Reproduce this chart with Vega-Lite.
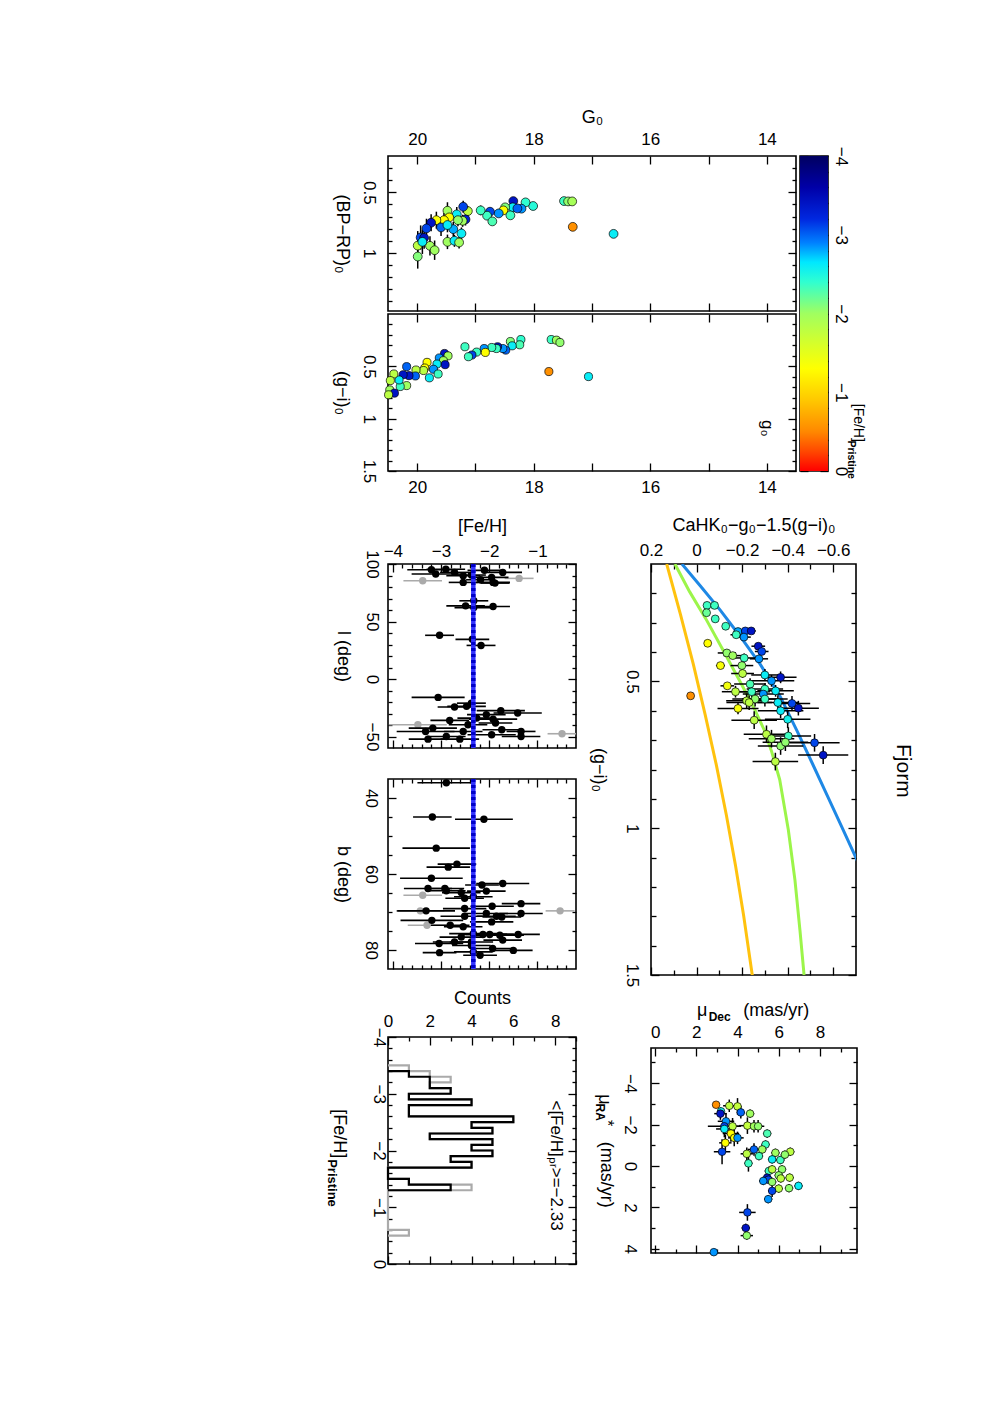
{
  "$schema": "https://vega.github.io/schema/vega-lite/v6.json",
  "autosize": {"type": "none"},
  "padding": {"left": 388, "top": 156, "right": 604, "bottom": 1248},
  "background": "white",
  "config": {
    "font": "Liberation Sans",
    "view": {"stroke": "black", "strokeWidth": 1.6},
    "axis": {"domain": false, "grid": false, "tickColor": "black", "tickWidth": 1.3, "labelFont": "Liberation Sans", "labelFontSize": 17, "labelColor": "black", "titleFont": "Liberation Sans", "titleFontSize": 18, "titleFontWeight": "normal", "titleColor": "black", "labelFlush": false, "labelOverlap": false, "titleBaseline": "middle", "titleAlign": "center"},
    "text": {"font": "Liberation Sans", "color": "black"}
  },
  "datasets": {
    "bp": [
      {"G":16.63,"c":0.843,"e":0.01,"feh":-2.6},{"G":17.33,"c":0.785,"e":0.01,"feh":-0.55},{"G":17.48,"c":0.572,"e":0.01,"feh":-2.35},{"G":17.41,"c":0.575,"e":0.01,"feh":-2.05},{"G":17.34,"c":0.575,"e":0.01,"feh":-1.95},
      {"G":18.01,"c":0.613,"e":0.015,"feh":-2.45},{"G":18.14,"c":0.583,"e":0.015,"feh":-2.4},{"G":18.35,"c":0.572,"e":0.02,"feh":-3.4},{"G":18.36,"c":0.624,"e":0.02,"feh":-2.6},{"G":18.21,"c":0.635,"e":0.02,"feh":-2.85},
      {"G":18.28,"c":0.633,"e":0.02,"feh":-3.0},{"G":18.49,"c":0.624,"e":0.02,"feh":-2.1},{"G":18.52,"c":0.649,"e":0.02,"feh":-1.3},{"G":18.6,"c":0.674,"e":0.025,"feh":-2.85},{"G":18.4,"c":0.69,"e":0.02,"feh":-2.35},
      {"G":18.75,"c":0.66,"e":0.03,"feh":-3.1},{"G":18.8,"c":0.693,"e":0.03,"feh":-2.35},{"G":18.71,"c":0.74,"e":0.03,"feh":-2.3},{"G":18.91,"c":0.649,"e":0.04,"feh":-2.35},{"G":19.13,"c":0.655,"e":0.04,"feh":-1.8},
      {"G":19.21,"c":0.619,"e":0.05,"feh":-3.1},{"G":19.17,"c":0.724,"e":0.05,"feh":-3.3},{"G":19.22,"c":0.735,"e":0.05,"feh":-2.0},{"G":19.48,"c":0.652,"e":0.07,"feh":-2.0},{"G":19.32,"c":0.682,"e":0.06,"feh":-2.6},
      {"G":19.45,"c":0.707,"e":0.06,"feh":-1.3},{"G":19.54,"c":0.73,"e":0.06,"feh":-1.3},{"G":19.67,"c":0.73,"e":0.07,"feh":-1.35},{"G":19.76,"c":0.751,"e":0.07,"feh":-3.4},{"G":19.59,"c":0.79,"e":0.07,"feh":-3.0},
      {"G":19.84,"c":0.798,"e":0.08,"feh":-3.1},{"G":19.94,"c":0.873,"e":0.1,"feh":-3.1},{"G":19.88,"c":0.876,"e":0.09,"feh":-3.4},{"G":19.99,"c":0.94,"e":0.12,"feh":-1.8},{"G":19.78,"c":0.942,"e":0.08,"feh":-2.0},
      {"G":19.7,"c":0.978,"e":0.08,"feh":-2.0},{"G":19.99,"c":1.03,"e":0.1,"feh":-2.1},{"G":19.48,"c":0.909,"e":0.06,"feh":-2.0},{"G":19.36,"c":0.9,"e":0.05,"feh":-2.6},{"G":19.28,"c":0.914,"e":0.05,"feh":-2.0},
      {"G":19.24,"c":0.84,"e":0.05,"feh":-2.6},{"G":19.38,"c":0.804,"e":0.06,"feh":-2.8},{"G":19.48,"c":0.77,"e":0.06,"feh":-2.6},{"G":19.3,"c":0.73,"e":0.05,"feh":-2.05},{"G":19.91,"c":0.909,"e":0.1,"feh":-2.6}
    ],
    "gi": [
      {"g":17.06,"c":0.598,"feh":-2.6},{"g":17.74,"c":0.55,"feh":-0.55},{"g":17.7,"c":0.244,"feh":-2.35},{"g":17.61,"c":0.25,"feh":-2.0},{"g":17.55,"c":0.272,"feh":-2.05},
      {"g":18.22,"c":0.244,"feh":-2.4},{"g":18.24,"c":0.294,"feh":-2.3},{"g":18.4,"c":0.263,"feh":-2.1},{"g":18.37,"c":0.304,"feh":-2.6},{"g":18.48,"c":0.345,"feh":-3.0},
      {"g":18.53,"c":0.33,"feh":-2.85},{"g":18.62,"c":0.313,"feh":-3.4},{"g":18.64,"c":0.33,"feh":-2.35},{"g":18.72,"c":0.32,"feh":-2.35},{"g":18.85,"c":0.33,"feh":-2.85},
      {"g":18.83,"c":0.367,"feh":-1.3},{"g":18.98,"c":0.364,"feh":-2.35},{"g":19.06,"c":0.392,"feh":-3.1},{"g":19.12,"c":0.408,"feh":-2.35},{"g":19.18,"c":0.313,"feh":-2.35},
      {"g":19.53,"c":0.377,"feh":-3.4},{"g":19.47,"c":0.4,"feh":-2.0},{"g":19.62,"c":0.42,"feh":-2.85},{"g":19.55,"c":0.446,"feh":-2.0},{"g":19.52,"c":0.484,"feh":-3.4},
      {"g":19.66,"c":0.478,"feh":-2.6},{"g":19.72,"c":0.528,"feh":-2.85},{"g":19.64,"c":0.573,"feh":-2.35},{"g":19.79,"c":0.61,"feh":-2.6},{"g":19.83,"c":0.462,"feh":-1.3},
      {"g":19.87,"c":0.516,"feh":-1.3},{"g":19.89,"c":0.54,"feh":-1.8},{"g":20.02,"c":0.535,"feh":-1.8},{"g":20.03,"c":0.592,"feh":-3.0},{"g":20.14,"c":0.589,"feh":-3.4},
      {"g":20.24,"c":0.58,"feh":-3.4},{"g":20.18,"c":0.503,"feh":-3.0},{"g":20.18,"c":0.684,"feh":-2.0},{"g":20.29,"c":0.693,"feh":-2.35},{"g":20.31,"c":0.63,"feh":-2.6},
      {"g":20.4,"c":0.573,"feh":-1.8},{"g":20.46,"c":0.636,"feh":-1.8},{"g":20.47,"c":0.725,"feh":-2.0},{"g":20.39,"c":0.756,"feh":-3.4},{"g":20.49,"c":0.772,"feh":-1.8}
    ],
    "ca": [
      {"x":-0.046,"y":0.241,"ex":0.01,"ey":0.005,"feh":-2.35},{"x":-0.079,"y":0.241,"ex":0.01,"ey":0.005,"feh":-2.35},{"x":-0.044,"y":0.266,"ex":0.01,"ey":0.005,"feh":-2.2},{"x":-0.082,"y":0.287,"ex":0.012,"ey":0.005,"feh":-2.35},
      {"x":-0.128,"y":0.312,"ex":0.015,"ey":0.006,"feh":-2.35},{"x":-0.182,"y":0.33,"ex":0.02,"ey":0.008,"feh":-2.8},{"x":-0.214,"y":0.328,"ex":0.02,"ey":0.008,"feh":-3.1},{"x":-0.24,"y":0.328,"ex":0.02,"ey":0.008,"feh":-3.4},
      {"x":-0.208,"y":0.349,"ex":0.03,"ey":0.01,"feh":-2.85},{"x":-0.174,"y":0.341,"ex":0.025,"ey":0.01,"feh":-2.35},{"x":-0.049,"y":0.37,"ex":0.015,"ey":0.008,"feh":-1.3},{"x":-0.271,"y":0.38,"ex":0.03,"ey":0.01,"feh":-3.4},
      {"x":-0.286,"y":0.398,"ex":0.03,"ey":0.01,"feh":-3.1},{"x":-0.274,"y":0.423,"ex":0.04,"ey":0.012,"feh":-2.85},{"x":-0.133,"y":0.403,"ex":0.04,"ey":0.012,"feh":-2.05},{"x":-0.159,"y":0.412,"ex":0.04,"ey":0.012,"feh":-2.0},
      {"x":-0.209,"y":0.42,"ex":0.05,"ey":0.015,"feh":-2.35},{"x":-0.105,"y":0.446,"ex":0.02,"ey":0.01,"feh":-1.35},{"x":-0.199,"y":0.446,"ex":0.05,"ey":0.015,"feh":-2.05},{"x":-0.202,"y":0.473,"ex":0.05,"ey":0.015,"feh":-1.8},
      {"x":-0.3,"y":0.478,"ex":0.06,"ey":0.02,"feh":-2.6},{"x":-0.369,"y":0.486,"ex":0.07,"ey":0.02,"feh":-3.4},{"x":-0.329,"y":0.498,"ex":0.1,"ey":0.02,"feh":-2.85},{"x":-0.135,"y":0.515,"ex":0.03,"ey":0.01,"feh":-1.4},
      {"x":-0.171,"y":0.535,"ex":0.06,"ey":0.02,"feh":-1.8},{"x":-0.235,"y":0.509,"ex":0.07,"ey":0.02,"feh":-2.3},{"x":-0.242,"y":0.535,"ex":0.08,"ey":0.02,"feh":-2.35},{"x":-0.3,"y":0.526,"ex":0.08,"ey":0.02,"feh":-2.35},
      {"x":-0.347,"y":0.532,"ex":0.08,"ey":0.02,"feh":-2.6},{"x":-0.293,"y":0.543,"ex":0.09,"ey":0.02,"feh":-2.85},{"x":0.026,"y":0.549,"ex":0.015,"ey":0.01,"feh":-0.55},{"x":-0.22,"y":0.566,"ex":0.09,"ey":0.025,"feh":-1.8},
      {"x":-0.257,"y":0.56,"ex":0.1,"ey":0.025,"feh":-2.05},{"x":-0.3,"y":0.56,"ex":0.1,"ey":0.025,"feh":-2.35},{"x":-0.357,"y":0.572,"ex":0.09,"ey":0.025,"feh":-2.6},{"x":-0.419,"y":0.575,"ex":0.08,"ey":0.025,"feh":-3.1},
      {"x":-0.447,"y":0.591,"ex":0.09,"ey":0.025,"feh":-3.4},{"x":-0.182,"y":0.592,"ex":0.09,"ey":0.02,"feh":-1.35},{"x":-0.231,"y":0.572,"ex":0.1,"ey":0.025,"feh":-1.8},{"x":-0.369,"y":0.6,"ex":0.1,"ey":0.025,"feh":-2.6},
      {"x":-0.4,"y":0.629,"ex":0.1,"ey":0.03,"feh":-2.55},{"x":-0.253,"y":0.632,"ex":0.1,"ey":0.03,"feh":-1.8},{"x":-0.307,"y":0.68,"ex":0.1,"ey":0.03,"feh":-1.8},{"x":-0.329,"y":0.695,"ex":0.1,"ey":0.03,"feh":-2.0},
      {"x":-0.369,"y":0.72,"ex":0.1,"ey":0.03,"feh":-2.05},{"x":-0.403,"y":0.686,"ex":0.1,"ey":0.03,"feh":-2.35},{"x":-0.39,"y":0.707,"ex":0.1,"ey":0.03,"feh":-2.05},{"x":-0.518,"y":0.709,"ex":0.11,"ey":0.03,"feh":-3.1},
      {"x":-0.556,"y":0.751,"ex":0.11,"ey":0.03,"feh":-3.4},{"x":-0.346,"y":0.773,"ex":0.1,"ey":0.03,"feh":-1.8}
    ],
    "tr": [
      {"t":"-1","x":0.131,"y":0.1},{"t":"-1","x":0.071,"y":0.271},{"t":"-1","x":0.014,"y":0.442},{"t":"-1","x":-0.038,"y":0.614},{"t":"-1","x":-0.087,"y":0.785},
      {"t":"-1","x":-0.131,"y":0.956},{"t":"-1","x":-0.171,"y":1.127},{"t":"-1","x":-0.207,"y":1.299},{"t":"-1","x":-0.246,"y":1.508},
      {"t":"-2","x":0.095,"y":0.1},{"t":"-2","x":0.03,"y":0.195},{"t":"-2","x":-0.041,"y":0.287},{"t":"-2","x":-0.113,"y":0.389},{"t":"-2","x":-0.185,"y":0.492},{"t":"-2","x":-0.252,"y":0.59},{"t":"-2","x":-0.298,"y":0.667},
      {"t":"-2","x":-0.33,"y":0.74},{"t":"-2","x":-0.365,"y":0.834},{"t":"-2","x":-0.403,"y":1.006},{"t":"-2","x":-0.432,"y":1.177},{"t":"-2","x":-0.454,"y":1.348},{"t":"-2","x":-0.472,"y":1.5},
      {"t":"-3","x":0.064,"y":0.1},{"t":"-3","x":-0.016,"y":0.174},{"t":"-3","x":-0.104,"y":0.257},{"t":"-3","x":-0.191,"y":0.346},{"t":"-3","x":-0.279,"y":0.441},{"t":"-3","x":-0.367,"y":0.551},
      {"t":"-3","x":-0.44,"y":0.667},{"t":"-3","x":-0.507,"y":0.777},{"t":"-3","x":-0.577,"y":0.894},{"t":"-3","x":-0.638,"y":0.996},{"t":"-3","x":-0.7,"y":1.101},{"t":"-3","x":-0.75,"y":1.19}
    ],
    "pm": [
      {"d":2.96,"r":-2.96,"ed":0.1,"er":0.1,"feh":-0.55},{"d":3.2,"r":-2.64,"ed":0.1,"er":0.1,"feh":-2.55},{"d":3.6,"r":-2.91,"ed":0.3,"er":0.3,"feh":-1.8},{"d":4.0,"r":-2.88,"ed":0.2,"er":0.4,"feh":-1.75},
      {"d":3.17,"r":-2.53,"ed":0.3,"er":0.3,"feh":-3.4},{"d":4.16,"r":-2.59,"ed":0.2,"er":0.3,"feh":-3.0},{"d":4.61,"r":-2.53,"ed":0.2,"er":0.2,"feh":-2.0},{"d":3.44,"r":-2.16,"ed":0.4,"er":0.4,"feh":-2.85},
      {"d":3.36,"r":-1.92,"ed":0.8,"er":0.3,"feh":-3.1},{"d":3.76,"r":-1.92,"ed":0.4,"er":0.4,"feh":-1.8},{"d":4.48,"r":-1.95,"ed":0.4,"er":0.4,"feh":-1.75},{"d":4.8,"r":-1.92,"ed":0.4,"er":0.3,"feh":-2.0},
      {"d":5.0,"r":-1.92,"ed":0.3,"er":0.3,"feh":-2.05},{"d":5.44,"r":-1.57,"ed":0.2,"er":0.2,"feh":-2.3},{"d":3.36,"r":-1.79,"ed":0.4,"er":0.4,"feh":-2.6},{"d":3.68,"r":-1.57,"ed":0.4,"er":0.4,"feh":-1.3},
      {"d":3.84,"r":-1.36,"ed":0.3,"er":0.4,"feh":-1.35},{"d":4.0,"r":-1.36,"ed":0.3,"er":0.3,"feh":-2.85},{"d":3.41,"r":-1.12,"ed":0.3,"er":0.4,"feh":-1.3},{"d":5.36,"r":-1.04,"ed":0.2,"er":0.2,"feh":-2.35},
      {"d":5.2,"r":-0.8,"ed":0.2,"er":0.2,"feh":-2.0},{"d":4.8,"r":-0.8,"ed":0.3,"er":0.3,"feh":-3.0},{"d":5.04,"r":-0.48,"ed":0.2,"er":0.2,"feh":-2.35},{"d":4.45,"r":-0.59,"ed":0.3,"er":0.3,"feh":-1.8},
      {"d":3.25,"r":-0.69,"ed":0.4,"er":0.6,"feh":-3.1},{"d":4.53,"r":-0.13,"ed":0.2,"er":0.4,"feh":-2.35},{"d":5.84,"r":-0.64,"ed":0.2,"er":0.2,"feh":-2.0},{"d":6.08,"r":-0.29,"ed":0.2,"er":0.2,"feh":-2.35},
      {"d":6.56,"r":-0.69,"ed":0.2,"er":0.2,"feh":-1.8},{"d":6.3,"r":-0.55,"ed":0.2,"er":0.2,"feh":-2.05},{"d":5.68,"r":-0.32,"ed":0.2,"er":0.2,"feh":-2.6},{"d":5.52,"r":0.24,"ed":0.2,"er":0.2,"feh":-2.35},
      {"d":5.68,"r":0.16,"ed":0.2,"er":0.2,"feh":-1.8},{"d":6.16,"r":0.16,"ed":0.2,"er":0.2,"feh":-2.05},{"d":6.0,"r":0.45,"ed":0.2,"er":0.2,"feh":-2.05},{"d":5.44,"r":0.56,"ed":0.2,"er":0.2,"feh":-3.4},
      {"d":5.5,"r":0.66,"ed":0.2,"er":0.2,"feh":-3.1},{"d":5.25,"r":0.72,"ed":0.2,"er":0.2,"feh":-2.85},{"d":5.68,"r":0.77,"ed":0.2,"er":0.2,"feh":-2.05},{"d":6.1,"r":0.6,"ed":0.2,"er":0.2,"feh":-1.8},
      {"d":6.53,"r":0.56,"ed":0.2,"er":0.2,"feh":-1.8},{"d":6.0,"r":1.09,"ed":0.2,"er":0.2,"feh":-1.8},{"d":6.5,"r":1.07,"ed":0.2,"er":0.2,"feh":-2.05},{"d":6.96,"r":0.96,"ed":0.2,"er":0.2,"feh":-2.6},
      {"d":5.68,"r":1.2,"ed":0.2,"er":0.3,"feh":-3.1},{"d":5.49,"r":1.6,"ed":0.2,"er":0.2,"feh":-2.85},{"d":4.48,"r":2.24,"ed":0.4,"er":0.4,"feh":-3.1},{"d":4.4,"r":2.99,"ed":0.2,"er":0.2,"feh":-3.4},
      {"d":4.45,"r":3.36,"ed":0.3,"er":0.2,"feh":-2.05},{"d":2.85,"r":4.16,"ed":0.1,"er":0.1,"feh":-2.85}
    ],
    "lpan": [
      {"f":-3.2,"l":95,"e":0.5,"m":1},{"f":-2.9,"l":95.5,"e":0.4,"m":1},{"f":-3.11,"l":91.3,"e":0.5,"m":1},{"f":-2.72,"l":92.7,"e":0.3,"m":1},{"f":-2.54,"l":89.8,"e":0.35,"m":1},
      {"f":-2.37,"l":90.4,"e":0.3,"m":1},{"f":-2.1,"l":94.5,"e":0.35,"m":1},{"f":-1.72,"l":92.7,"e":0.4,"m":1},{"f":-1.95,"l":88.4,"e":0.35,"m":1},{"f":-2.18,"l":86.3,"e":0.3,"m":1},
      {"f":-2.54,"l":84,"e":0.3,"m":1},{"f":-1.92,"l":84,"e":0.35,"m":1},{"f":-1.88,"l":83.4,"e":0.3,"m":1},{"f":-3.38,"l":85.4,"e":0.4,"m":0},{"f":-1.38,"l":87.5,"e":0.3,"m":0},
      {"f":-2.32,"l":68,"e":0.3,"m":1},{"f":-2.49,"l":63.6,"e":0.4,"m":1},{"f":-2.32,"l":62.1,"e":0.4,"m":1},{"f":-1.92,"l":63,"e":0.35,"m":1},{"f":-3.03,"l":38,"e":0.3,"m":1},
      {"f":-2.35,"l":34.5,"e":0.35,"m":1},{"f":-2.17,"l":29.2,"e":0.3,"m":1},{"f":-3.06,"l":-16,"e":0.55,"m":1},{"f":-2.37,"l":-21,"e":0.3,"m":1},{"f":-2.72,"l":-24.3,"e":0.35,"m":1},
      {"f":-2.47,"l":-23.8,"e":0.4,"m":1},{"f":-1.76,"l":-27.5,"e":0.5,"m":1},{"f":-1.41,"l":-29.6,"e":0.5,"m":1},{"f":-2.06,"l":-31,"e":0.4,"m":1},{"f":-2.26,"l":-34,"e":0.4,"m":1},
      {"f":-2.82,"l":-36,"e":0.4,"m":1},{"f":-1.92,"l":-34.9,"e":0.5,"m":1},{"f":-1.87,"l":-38.3,"e":0.35,"m":1},{"f":-2.44,"l":-39.8,"e":0.4,"m":1},{"f":-3.17,"l":-42.7,"e":0.5,"m":1},
      {"f":-2.54,"l":-45.6,"e":0.4,"m":1},{"f":-3.32,"l":-45.6,"e":0.6,"m":1},{"f":-1.74,"l":-44.1,"e":0.4,"m":1},{"f":-1.34,"l":-45.6,"e":0.3,"m":1},{"f":-1.95,"l":-48.5,"e":0.5,"m":1},
      {"f":-1.34,"l":-50,"e":0.4,"m":1},{"f":-2.89,"l":-50,"e":0.4,"m":1},{"f":-2.61,"l":-52.3,"e":0.4,"m":1},{"f":-3.27,"l":-52.3,"e":0.4,"m":1},{"f":-3.48,"l":-39.8,"e":0.6,"m":0},
      {"f":-0.49,"l":-47.6,"e":0.3,"m":0}
    ],
    "bpan": [
      {"f":-2.89,"b":36,"e":0.6,"m":1},{"f":-3.18,"b":45,"e":0.4,"m":1},{"f":-2.11,"b":45.6,"e":0.6,"m":1},{"f":-3.1,"b":53.2,"e":0.7,"m":1},{"f":-2.67,"b":57.4,"e":0.4,"m":1},
      {"f":-2.85,"b":58.2,"e":0.45,"m":1},{"f":-3.2,"b":61.1,"e":0.65,"m":1},{"f":-2.15,"b":62.9,"e":0.35,"m":1},{"f":-1.72,"b":62.5,"e":0.55,"m":1},{"f":-3.27,"b":63.8,"e":0.5,"m":1},
      {"f":-2.92,"b":63.8,"e":0.4,"m":1},{"f":-2.89,"b":64.4,"e":0.4,"m":1},{"f":-2.58,"b":64.9,"e":0.4,"m":1},{"f":-2.06,"b":64.5,"e":0.4,"m":1},{"f":-3.38,"b":65.6,"e":0.4,"m":0},
      {"f":-2.33,"b":66,"e":0.4,"m":1},{"f":-2.51,"b":66.4,"e":0.4,"m":1},{"f":-1.94,"b":68.5,"e":0.45,"m":1},{"f":-1.34,"b":67.8,"e":0.4,"m":1},{"f":-3.31,"b":69.7,"e":0.6,"m":1},
      {"f":-3.43,"b":69.7,"e":0.5,"m":0},{"f":-2.51,"b":69.1,"e":0.45,"m":1},{"f":-2.51,"b":71.1,"e":0.5,"m":1},{"f":-2.06,"b":70.4,"e":0.45,"m":1},{"f":-1.85,"b":71.1,"e":0.4,"m":1},
      {"f":-1.74,"b":71.3,"e":0.4,"m":1},{"f":-1.34,"b":70.4,"e":0.45,"m":1},{"f":-0.53,"b":69.7,"e":0.3,"m":0},{"f":-3.19,"b":72.2,"e":0.65,"m":1},{"f":-1.95,"b":72.6,"e":0.45,"m":1},
      {"f":-3.29,"b":73.5,"e":0.4,"m":0},{"f":-2.81,"b":73.5,"e":0.4,"m":1},{"f":-2.54,"b":73.9,"e":0.4,"m":1},{"f":-2.33,"b":75.7,"e":0.5,"m":1},{"f":-2.13,"b":75.9,"e":0.5,"m":1},
      {"f":-1.99,"b":75.9,"e":0.5,"m":1},{"f":-1.78,"b":76.1,"e":0.5,"m":1},{"f":-1.4,"b":75.9,"e":0.45,"m":1},{"f":-2.58,"b":76.6,"e":0.45,"m":1},{"f":-2.37,"b":77.9,"e":0.45,"m":1},
      {"f":-2.72,"b":77.9,"e":0.45,"m":1},{"f":-3.04,"b":78.3,"e":0.5,"m":1},{"f":-1.72,"b":77.4,"e":0.4,"m":1},{"f":-2.37,"b":78.8,"e":0.4,"m":1},{"f":-1.93,"b":79.6,"e":0.4,"m":1},
      {"f":-1.5,"b":80.1,"e":0.4,"m":1},{"f":-3.03,"b":80.7,"e":0.35,"m":1},{"f":-2.33,"b":80.5,"e":0.4,"m":1},{"f":-2.19,"b":81.4,"e":0.35,"m":1}
    ],
    "hsel": [
      {"i":0,"feh":-3.4,"n":0},{"i":1,"feh":-3.4,"n":1},{"i":2,"feh":-3.3,"n":2},{"i":3,"feh":-3.2,"n":2},{"i":4,"feh":-3.1,"n":3},{"i":5,"feh":-3.0,"n":1},
      {"i":6,"feh":-2.9,"n":4},{"i":7,"feh":-2.8,"n":1},{"i":8,"feh":-2.7,"n":1},{"i":9,"feh":-2.6,"n":6},{"i":10,"feh":-2.5,"n":4},{"i":11,"feh":-2.4,"n":5},
      {"i":12,"feh":-2.3,"n":2},{"i":13,"feh":-2.2,"n":5},{"i":14,"feh":-2.1,"n":4},{"i":15,"feh":-2.0,"n":5},{"i":16,"feh":-1.9,"n":3},{"i":17,"feh":-1.8,"n":4},
      {"i":18,"feh":-1.7,"n":0},{"i":19,"feh":-1.6,"n":0},{"i":20,"feh":-1.5,"n":1},{"i":21,"feh":-1.4,"n":3},{"i":22,"feh":-1.3,"n":0}
    ],
    "hall": [
      {"i":0,"feh":-3.5,"n":0},{"i":1,"feh":-3.5,"n":1},{"i":2,"feh":-3.4,"n":2},{"i":3,"feh":-3.3,"n":3},{"i":4,"feh":-3.2,"n":2},{"i":5,"feh":-3.1,"n":3},{"i":6,"feh":-3.0,"n":1},
      {"i":7,"feh":-2.9,"n":4},{"i":8,"feh":-2.8,"n":1},{"i":9,"feh":-2.7,"n":1},{"i":10,"feh":-2.6,"n":6},{"i":11,"feh":-2.5,"n":4},{"i":12,"feh":-2.4,"n":5},
      {"i":13,"feh":-2.3,"n":2},{"i":14,"feh":-2.2,"n":5},{"i":15,"feh":-2.1,"n":4},{"i":16,"feh":-2.0,"n":5},{"i":17,"feh":-1.9,"n":3},{"i":18,"feh":-1.8,"n":4},
      {"i":19,"feh":-1.7,"n":0},{"i":20,"feh":-1.6,"n":0},{"i":21,"feh":-1.5,"n":1},{"i":22,"feh":-1.4,"n":4},{"i":23,"feh":-1.3,"n":0},{"i":24,"feh":-0.6,"n":1},{"i":25,"feh":-0.5,"n":0}
    ],
    "mean": [{"v": -2.33}]
  },
  "bounds": "full",
  "spacing": 18,
  "vconcat": [
    {
      "bounds": "full",
      "spacing": 0,
      "hconcat": [
        {
          "bounds": "flush",
          "spacing": 3,
          "vconcat": [
            {
              "width": 408, "height": 155,
              "data": {"name": "bp"},
              "resolve": {"axis": {"x": "independent", "y": "independent"}},
              "layer": [
                {
                  "mark": {"type": "errorbar", "color": "black", "thickness": 1.5, "clip": true},
                  "encoding": {
                    "x": {"field": "G", "type": "quantitative", "scale": {"domain": [13.5, 20.5], "reverse": true, "nice": false, "zero": false}, "axis": null},
                    "y": {"field": "c", "type": "quantitative", "scale": {"domain": [0.2, 1.48], "reverse": true, "nice": false, "zero": false}, "axis": null},
                    "yError": {"field": "e"}
                  }
                },
                {
                  "mark": {"type": "circle", "size": 78, "stroke": "black", "strokeWidth": 0.7, "opacity": 1},
                  "encoding": {
                    "x": {"field": "G", "type": "quantitative", "scale": {"domain": [13.5, 20.5], "reverse": true, "nice": false, "zero": false},
                      "axis": {"orient": "top", "values": [14, 15, 16, 17, 18, 19, 20], "tickSize": -8, "labelExpr": "datum.value % 2 == 0 ? datum.label : ''", "labelPadding": 15.6, "format": "~f", "title": "G₀", "titleY": -39}},
                    "y": {"field": "c", "type": "quantitative", "scale": {"domain": [0.2, 1.48], "reverse": true, "nice": false, "zero": false},
                      "axis": {"orient": "left", "values": [0.3, 0.4, 0.5, 0.6, 0.7, 0.8, 0.9, 1, 1.1, 1.2, 1.3, 1.4],
                        "tickSize": {"condition": {"test": "abs(datum.value*2-round(datum.value*2)) < 0.01", "value": -8}, "value": -4},
                        "labelExpr": "abs(datum.value*2-round(datum.value*2)) < 0.01 ? datum.label : ''", "labelAngle": 90, "labelAlign": "center", "labelBaseline": "top", "labelPadding": 20, "format": "~f",
                        "title": "(BP−RP)₀", "titleAngle": 90, "titleX": -46.3, "titleY": 77.5}},
                    "color": {"field": "feh", "type": "quantitative", "scale": {"domain": [-4, -3.6, -3.2, -2.9, -2.65, -2.4, -2.0, -1.6, -1.3, -0.9, -0.5, -0.25, 0], "range": ["#000060", "#0000a8", "#0028e0", "#0080ff", "#00e8ff", "#30ffd0", "#a0ff60", "#d8ff28", "#ffff00", "#ffc800", "#ff8800", "#ff4800", "#ff0000"], "interpolate": "rgb"}, "legend": null}
                  }
                },
                {
                  "mark": {"type": "point", "opacity": 0},
                  "encoding": {
                    "x": {"field": "G", "type": "quantitative", "scale": {"domain": [13.5, 20.5], "reverse": true, "nice": false, "zero": false},
                      "axis": {"orient": "bottom", "values": [14, 15, 16, 17, 18, 19, 20], "tickSize": -8, "labels": false, "title": null}},
                    "y": {"field": "c", "type": "quantitative", "scale": {"domain": [0.2, 1.48], "reverse": true, "nice": false, "zero": false},
                      "axis": {"orient": "right", "values": [0.3, 0.4, 0.5, 0.6, 0.7, 0.8, 0.9, 1, 1.1, 1.2, 1.3, 1.4],
                        "tickSize": {"condition": {"test": "abs(datum.value*2-round(datum.value*2)) < 0.01", "value": -8}, "value": -4}, "labels": false, "title": null}}
                  }
                }
              ]
            },
            {
              "width": 408, "height": 157,
              "data": {"name": "gi"},
              "resolve": {"axis": {"x": "independent", "y": "independent"}},
              "layer": [
                {
                  "mark": {"type": "circle", "size": 66, "stroke": "black", "strokeWidth": 0.7, "opacity": 1},
                  "encoding": {
                    "x": {"field": "g", "type": "quantitative", "scale": {"domain": [13.5, 20.5], "reverse": true, "nice": false, "zero": false},
                      "axis": {"orient": "top", "values": [14, 15, 16, 17, 18, 19, 20], "tickSize": -8, "labels": false, "title": null}},
                    "y": {"field": "c", "type": "quantitative", "scale": {"domain": [0, 1.5], "reverse": true, "nice": false, "zero": false},
                      "axis": {"orient": "left", "values": [0.1, 0.2, 0.3, 0.4, 0.5, 0.6, 0.7, 0.8, 0.9, 1, 1.1, 1.2, 1.3, 1.4, 1.5],
                        "tickSize": {"condition": {"test": "abs(datum.value*2-round(datum.value*2)) < 0.01", "value": -8}, "value": -4},
                        "labelExpr": "abs(datum.value*2-round(datum.value*2)) < 0.01 ? datum.label : ''", "labelAngle": 90, "labelAlign": "center", "labelBaseline": "top", "labelPadding": 20, "format": "~f",
                        "title": "(g−i)₀", "titleAngle": 90, "titleX": -46.3, "titleY": 78.5}},
                    "color": {"field": "feh", "type": "quantitative", "scale": {"domain": [-4, -3.6, -3.2, -2.9, -2.65, -2.4, -2.0, -1.6, -1.3, -0.9, -0.5, -0.25, 0], "range": ["#000060", "#0000a8", "#0028e0", "#0080ff", "#00e8ff", "#30ffd0", "#a0ff60", "#d8ff28", "#ffff00", "#ffc800", "#ff8800", "#ff4800", "#ff0000"], "interpolate": "rgb"}, "legend": null}
                  }
                },
                {
                  "mark": {"type": "point", "opacity": 0},
                  "encoding": {
                    "x": {"field": "g", "type": "quantitative", "scale": {"domain": [13.5, 20.5], "reverse": true, "nice": false, "zero": false},
                      "axis": {"orient": "bottom", "values": [14, 15, 16, 17, 18, 19, 20], "tickSize": -8, "labelExpr": "datum.value % 2 == 0 ? datum.label : ''", "labelPadding": 16.4, "format": "~f", "title": null}},
                    "y": {"field": "c", "type": "quantitative", "scale": {"domain": [0, 1.5], "reverse": true, "nice": false, "zero": false},
                      "axis": {"orient": "right", "values": [0.1, 0.2, 0.3, 0.4, 0.5, 0.6, 0.7, 0.8, 0.9, 1, 1.1, 1.2, 1.3, 1.4, 1.5],
                        "tickSize": {"condition": {"test": "abs(datum.value*2-round(datum.value*2)) < 0.01", "value": -8}, "value": -4}, "labels": false, "title": null}}
                  }
                },
                {
                  "data": {"values": [{}]},
                  "mark": {"type": "text", "text": "g₀", "angle": 90, "fontSize": 17, "align": "center", "baseline": "middle"},
                  "encoding": {
                    "x": {"datum": 14.0, "type": "quantitative", "scale": {"domain": [13.5, 20.5], "reverse": true, "nice": false, "zero": false}, "axis": null},
                    "y": {"datum": 1.091, "type": "quantitative", "scale": {"domain": [0, 1.5], "reverse": true, "nice": false, "zero": false}, "axis": null}
                  }
                }
              ]
            }
          ]
        },
        {
          "width": 28, "height": 315,
          "data": {"values": [{}]},
          "resolve": {"axis": {"x": "independent", "y": "independent"}},
          "layer": [
            {
              "mark": {"type": "rect", "fill": {"gradient": "linear", "x1": 0, "y1": 0, "x2": 0, "y2": 1, "stops": [
                {"offset": 0, "color": "#000060"}, {"offset": 0.1, "color": "#0000a8"}, {"offset": 0.2, "color": "#0028e0"}, {"offset": 0.275, "color": "#0080ff"},
                {"offset": 0.3375, "color": "#00e8ff"}, {"offset": 0.4, "color": "#30ffd0"}, {"offset": 0.5, "color": "#a0ff60"}, {"offset": 0.6, "color": "#d8ff28"},
                {"offset": 0.675, "color": "#ffff00"}, {"offset": 0.775, "color": "#ffc800"}, {"offset": 0.875, "color": "#ff8800"}, {"offset": 0.9375, "color": "#ff4800"}, {"offset": 1, "color": "#ff0000"}]}},
              "encoding": {
                "x": {"datum": 0, "type": "quantitative", "scale": {"domain": [0, 1], "nice": false, "zero": false}, "axis": null},
                "x2": {"datum": 1},
                "y": {"datum": -4, "type": "quantitative", "scale": {"domain": [-4, 0], "reverse": true, "nice": false, "zero": false},
                  "axis": {"orient": "left", "values": [-4, -3.8, -3.6, -3.4, -3.2, -3, -2.8, -2.6, -2.4, -2.2, -2, -1.8, -1.6, -1.4, -1.2, -1, -0.8, -0.6, -0.4, -0.2, 0],
                    "tickSize": {"condition": {"test": "abs(datum.value-round(datum.value)) < 0.01", "value": -8}, "value": -5}, "labels": false, "title": null}},
                "y2": {"datum": 0}
              }
            },
            {
              "mark": {"type": "point", "opacity": 0},
              "encoding": {
                "x": {"datum": 0.5, "type": "quantitative", "scale": {"domain": [0, 1], "nice": false, "zero": false}, "axis": null},
                "y": {"datum": -2, "type": "quantitative", "scale": {"domain": [-4, 0], "reverse": true, "nice": false, "zero": false},
                  "axis": {"orient": "right", "values": [-4, -3.8, -3.6, -3.4, -3.2, -3, -2.8, -2.6, -2.4, -2.2, -2, -1.8, -1.6, -1.4, -1.2, -1, -0.8, -0.6, -0.4, -0.2, 0],
                    "tickSize": {"condition": {"test": "abs(datum.value-round(datum.value)) < 0.01", "value": -8}, "value": -5},
                    "labelExpr": "abs(datum.value-round(datum.value)) < 0.01 ? datum.label : ''", "labelAngle": 90, "labelAlign": "center", "labelBaseline": "bottom", "labelPadding": 11.7, "format": "~f",
                    "title": "[Fe/H]", "titleFontSize": 14, "titleAngle": 90, "titleX": 29.8, "titleY": 266.3}}
              }
            },
            {
              "mark": {"type": "point", "opacity": 0},
              "encoding": {
                "x": {"datum": 0.5, "type": "quantitative", "scale": {"domain": [0, 1], "nice": false, "zero": false}, "axis": null},
                "y": {"datum": -2, "type": "quantitative", "scale": {"domain": [-4, 0], "reverse": true, "nice": false, "zero": false},
                  "axis": {"orient": "right", "ticks": false, "labels": false, "title": "Pristine", "titleFontSize": 10.5, "titleFontWeight": "bold", "titleAngle": 90, "titleX": 22.3, "titleY": 303.2}}
              }
            }
          ]
        }
      ]
    },
    {
      "bounds": "full",
      "spacing": 10,
      "hconcat": [
        {
          "bounds": "flush",
          "spacing": 0,
          "vconcat": [
            {
              "width": 188, "height": 184,
              "data": {"name": "lpan"},
              "resolve": {"axis": {"x": "independent", "y": "independent"}},
              "layer": [
                {
                  "transform": [{"filter": "datum.m == 0"}],
                  "mark": {"type": "errorbar", "color": "#aaaaaa", "thickness": 1.6, "clip": true},
                  "encoding": {
                    "x": {"field": "f", "type": "quantitative", "scale": {"domain": [-4.1, -0.2], "nice": false, "zero": false}, "axis": null},
                    "y": {"field": "l", "type": "quantitative", "scale": {"domain": [-60, 100], "nice": false, "zero": false}, "axis": null},
                    "xError": {"field": "e"}
                  }
                },
                {
                  "transform": [{"filter": "datum.m == 0"}],
                  "mark": {"type": "circle", "size": 55, "color": "#aaaaaa", "opacity": 1},
                  "encoding": {
                    "x": {"field": "f", "type": "quantitative", "scale": {"domain": [-4.1, -0.2], "nice": false, "zero": false}, "axis": null},
                    "y": {"field": "l", "type": "quantitative", "scale": {"domain": [-60, 100], "nice": false, "zero": false}, "axis": null}
                  }
                },
                {
                  "transform": [{"filter": "datum.m == 1"}],
                  "mark": {"type": "errorbar", "color": "black", "thickness": 1.6, "clip": true},
                  "encoding": {
                    "x": {"field": "f", "type": "quantitative", "scale": {"domain": [-4.1, -0.2], "nice": false, "zero": false}, "axis": null},
                    "y": {"field": "l", "type": "quantitative", "scale": {"domain": [-60, 100], "nice": false, "zero": false}, "axis": null},
                    "xError": {"field": "e"}
                  }
                },
                {
                  "transform": [{"filter": "datum.m == 1"}],
                  "mark": {"type": "circle", "size": 55, "color": "black", "opacity": 1},
                  "encoding": {
                    "x": {"field": "f", "type": "quantitative", "scale": {"domain": [-4.1, -0.2], "nice": false, "zero": false},
                      "axis": {"orient": "top", "values": [-4, -3.8, -3.6, -3.4, -3.2, -3, -2.8, -2.6, -2.4, -2.2, -2, -1.8, -1.6, -1.4, -1.2, -1, -0.8, -0.6, -0.4],
                        "tickSize": {"condition": {"test": "abs(datum.value-round(datum.value)) < 0.01", "value": -8}, "value": -4},
                        "labelExpr": "abs(datum.value-round(datum.value)) < 0.01 ? datum.label : ''", "labelPadding": 12, "format": "~f", "title": "[Fe/H]", "titleY": -37.3}},
                    "y": {"field": "l", "type": "quantitative", "scale": {"domain": [-60, 100], "nice": false, "zero": false},
                      "axis": {"orient": "left", "values": [-50, -40, -30, -20, -10, 0, 10, 20, 30, 40, 50, 60, 70, 80, 90, 100],
                        "tickSize": {"condition": {"test": "datum.value % 50 == 0", "value": -8}, "value": -4},
                        "labelExpr": "datum.value % 50 == 0 ? datum.label : ''", "labelAngle": 90, "labelAlign": "center", "labelBaseline": "top", "labelPadding": 16.7, "format": "~f",
                        "title": "l (deg)", "titleAngle": 90, "titleX": -46, "titleY": 92}}
                  }
                },
                {
                  "mark": {"type": "point", "opacity": 0},
                  "encoding": {
                    "x": {"field": "f", "type": "quantitative", "scale": {"domain": [-4.1, -0.2], "nice": false, "zero": false},
                      "axis": {"orient": "bottom", "values": [-4, -3.8, -3.6, -3.4, -3.2, -3, -2.8, -2.6, -2.4, -2.2, -2, -1.8, -1.6, -1.4, -1.2, -1, -0.8, -0.6, -0.4],
                        "tickSize": {"condition": {"test": "abs(datum.value-round(datum.value)) < 0.01", "value": -8}, "value": -4}, "labels": false, "title": null}},
                    "y": {"field": "l", "type": "quantitative", "scale": {"domain": [-60, 100], "nice": false, "zero": false},
                      "axis": {"orient": "right", "values": [-50, -40, -30, -20, -10, 0, 10, 20, 30, 40, 50, 60, 70, 80, 90, 100],
                        "tickSize": {"condition": {"test": "datum.value % 50 == 0", "value": -8}, "value": -4}, "labels": false, "title": null}}
                  }
                },
                {
                  "data": {"name": "mean"},
                  "mark": {"type": "rule", "color": "#3333ff", "strokeWidth": 4.5},
                  "encoding": {"x": {"field": "v", "type": "quantitative", "scale": {"domain": [-4.1, -0.2], "nice": false, "zero": false}, "axis": null}}
                },
                {
                  "data": {"name": "mean"},
                  "mark": {"type": "rule", "color": "#0000c8", "strokeWidth": 4.5, "strokeDash": [3, 3]},
                  "encoding": {"x": {"field": "v", "type": "quantitative", "scale": {"domain": [-4.1, -0.2], "nice": false, "zero": false}, "axis": null}}
                }
              ]
            },
            {"width": 1, "height": 31, "data": {"values": []}, "mark": "point", "view": {"stroke": null}},
            {
              "width": 188, "height": 190,
              "data": {"name": "bpan"},
              "resolve": {"axis": {"x": "independent", "y": "independent"}},
              "layer": [
                {
                  "transform": [{"filter": "datum.m == 0"}],
                  "mark": {"type": "errorbar", "color": "#aaaaaa", "thickness": 1.6, "clip": true},
                  "encoding": {
                    "x": {"field": "f", "type": "quantitative", "scale": {"domain": [-4.1, -0.2], "nice": false, "zero": false}, "axis": null},
                    "y": {"field": "b", "type": "quantitative", "scale": {"domain": [35, 85], "reverse": true, "nice": false, "zero": false}, "axis": null},
                    "xError": {"field": "e"}
                  }
                },
                {
                  "transform": [{"filter": "datum.m == 0"}],
                  "mark": {"type": "circle", "size": 55, "color": "#aaaaaa", "opacity": 1},
                  "encoding": {
                    "x": {"field": "f", "type": "quantitative", "scale": {"domain": [-4.1, -0.2], "nice": false, "zero": false}, "axis": null},
                    "y": {"field": "b", "type": "quantitative", "scale": {"domain": [35, 85], "reverse": true, "nice": false, "zero": false}, "axis": null}
                  }
                },
                {
                  "transform": [{"filter": "datum.m == 1"}],
                  "mark": {"type": "errorbar", "color": "black", "thickness": 1.6, "clip": true},
                  "encoding": {
                    "x": {"field": "f", "type": "quantitative", "scale": {"domain": [-4.1, -0.2], "nice": false, "zero": false}, "axis": null},
                    "y": {"field": "b", "type": "quantitative", "scale": {"domain": [35, 85], "reverse": true, "nice": false, "zero": false}, "axis": null},
                    "xError": {"field": "e"}
                  }
                },
                {
                  "transform": [{"filter": "datum.m == 1"}],
                  "mark": {"type": "circle", "size": 55, "color": "black", "opacity": 1},
                  "encoding": {
                    "x": {"field": "f", "type": "quantitative", "scale": {"domain": [-4.1, -0.2], "nice": false, "zero": false},
                      "axis": {"orient": "top", "values": [-4, -3.8, -3.6, -3.4, -3.2, -3, -2.8, -2.6, -2.4, -2.2, -2, -1.8, -1.6, -1.4, -1.2, -1, -0.8, -0.6, -0.4],
                        "tickSize": {"condition": {"test": "abs(datum.value-round(datum.value)) < 0.01", "value": -8}, "value": -4}, "labels": false, "title": null}},
                    "y": {"field": "b", "type": "quantitative", "scale": {"domain": [35, 85], "reverse": true, "nice": false, "zero": false},
                      "axis": {"orient": "left", "values": [40, 45, 50, 55, 60, 65, 70, 75, 80],
                        "tickSize": {"condition": {"test": "datum.value % 20 == 0", "value": -8}, "value": -4},
                        "labelExpr": "datum.value % 20 == 0 ? datum.label : ''", "labelAngle": 90, "labelAlign": "center", "labelBaseline": "top", "labelPadding": 17.7, "format": "~f",
                        "title": "b (deg)", "titleAngle": 90, "titleX": -46, "titleY": 95}}
                  }
                },
                {
                  "mark": {"type": "point", "opacity": 0},
                  "encoding": {
                    "x": {"field": "f", "type": "quantitative", "scale": {"domain": [-4.1, -0.2], "nice": false, "zero": false},
                      "axis": {"orient": "bottom", "values": [-4, -3.8, -3.6, -3.4, -3.2, -3, -2.8, -2.6, -2.4, -2.2, -2, -1.8, -1.6, -1.4, -1.2, -1, -0.8, -0.6, -0.4],
                        "tickSize": {"condition": {"test": "abs(datum.value-round(datum.value)) < 0.01", "value": -8}, "value": -4}, "labels": false, "title": null}},
                    "y": {"field": "b", "type": "quantitative", "scale": {"domain": [35, 85], "reverse": true, "nice": false, "zero": false},
                      "axis": {"orient": "right", "values": [40, 45, 50, 55, 60, 65, 70, 75, 80],
                        "tickSize": {"condition": {"test": "datum.value % 20 == 0", "value": -8}, "value": -4}, "labels": false, "title": null}}
                  }
                },
                {
                  "data": {"name": "mean"},
                  "mark": {"type": "rule", "color": "#3333ff", "strokeWidth": 4.5},
                  "encoding": {"x": {"field": "v", "type": "quantitative", "scale": {"domain": [-4.1, -0.2], "nice": false, "zero": false}, "axis": null}}
                },
                {
                  "data": {"name": "mean"},
                  "mark": {"type": "rule", "color": "#0000c8", "strokeWidth": 4.5, "strokeDash": [3, 3]},
                  "encoding": {"x": {"field": "v", "type": "quantitative", "scale": {"domain": [-4.1, -0.2], "nice": false, "zero": false}, "axis": null}}
                }
              ]
            },
            {"width": 1, "height": 68, "data": {"values": []}, "mark": "point", "view": {"stroke": null}},
            {
              "width": 188, "height": 227,
              "resolve": {"axis": {"x": "independent", "y": "independent"}},
              "layer": [
                {
                  "data": {"name": "hall"},
                  "mark": {"type": "line", "interpolate": "step-before", "color": "#aaaaaa", "strokeWidth": 2.2},
                  "encoding": {
                    "x": {"field": "n", "type": "quantitative", "scale": {"domain": [0, 9], "nice": false, "zero": false}, "axis": null},
                    "y": {"field": "feh", "type": "quantitative", "scale": {"domain": [-4, 0], "reverse": true, "nice": false, "zero": false}, "axis": null},
                    "order": {"field": "i", "type": "quantitative"}
                  }
                },
                {
                  "data": {"name": "hsel"},
                  "mark": {"type": "line", "interpolate": "step-before", "color": "black", "strokeWidth": 2.2},
                  "encoding": {
                    "x": {"field": "n", "type": "quantitative", "scale": {"domain": [0, 9], "nice": false, "zero": false},
                      "axis": {"orient": "top", "values": [0, 1, 2, 3, 4, 5, 6, 7, 8, 9],
                        "tickSize": {"condition": {"test": "datum.value % 2 == 0", "value": -8}, "value": -4},
                        "labelExpr": "datum.value % 2 == 0 ? datum.label : ''", "labelPadding": 15, "format": "~f", "title": "Counts", "titleY": -39}},
                    "y": {"field": "feh", "type": "quantitative", "scale": {"domain": [-4, 0], "reverse": true, "nice": false, "zero": false},
                      "axis": {"orient": "left", "values": [-4, -3.8, -3.6, -3.4, -3.2, -3, -2.8, -2.6, -2.4, -2.2, -2, -1.8, -1.6, -1.4, -1.2, -1, -0.8, -0.6, -0.4, -0.2, 0],
                        "tickSize": {"condition": {"test": "abs(datum.value-round(datum.value)) < 0.01", "value": -8}, "value": -4},
                        "labelExpr": "abs(datum.value-round(datum.value)) < 0.01 ? datum.label : ''", "labelAngle": 90, "labelAlign": "center", "labelBaseline": "top", "labelPadding": 10, "format": "~f",
                        "title": "[Fe/H]", "titleAngle": 90, "titleX": -49.7, "titleY": 96.3}},
                    "order": {"field": "i", "type": "quantitative"}
                  }
                },
                {
                  "data": {"name": "hsel"},
                  "mark": {"type": "point", "opacity": 0},
                  "encoding": {
                    "x": {"field": "n", "type": "quantitative", "scale": {"domain": [0, 9], "nice": false, "zero": false},
                      "axis": {"orient": "bottom", "values": [0, 1, 2, 3, 4, 5, 6, 7, 8, 9],
                        "tickSize": {"condition": {"test": "datum.value % 2 == 0", "value": -8}, "value": -4}, "labels": false, "title": null}},
                    "y": {"field": "feh", "type": "quantitative", "scale": {"domain": [-4, 0], "reverse": true, "nice": false, "zero": false},
                      "axis": {"orient": "right", "values": [-4, -3.8, -3.6, -3.4, -3.2, -3, -2.8, -2.6, -2.4, -2.2, -2, -1.8, -1.6, -1.4, -1.2, -1, -0.8, -0.6, -0.4, -0.2, 0],
                        "tickSize": {"condition": {"test": "abs(datum.value-round(datum.value)) < 0.01", "value": -8}, "value": -4}, "labels": false, "title": null}}
                  }
                },
                {
                  "data": {"name": "hsel"},
                  "mark": {"type": "point", "opacity": 0},
                  "encoding": {
                    "x": {"field": "n", "type": "quantitative", "scale": {"domain": [0, 9], "nice": false, "zero": false}, "axis": null},
                    "y": {"field": "feh", "type": "quantitative", "scale": {"domain": [-4, 0], "reverse": true, "nice": false, "zero": false},
                      "axis": {"orient": "left", "ticks": false, "labels": false, "title": "Pristine", "titleFontSize": 13, "titleFontWeight": "bold", "titleAngle": 90, "titleX": -57, "titleY": 145.5}}
                  }
                },
                {
                  "data": {"values": [{}]},
                  "mark": {"type": "text", "text": "<[Fe/H]ₚᵣ>=−2.33", "angle": 90, "fontSize": 17, "align": "center", "baseline": "middle"},
                  "encoding": {
                    "x": {"datum": 8.06, "type": "quantitative", "scale": {"domain": [0, 9], "nice": false, "zero": false}, "axis": null},
                    "y": {"datum": -1.735, "type": "quantitative", "scale": {"domain": [-4, 0], "reverse": true, "nice": false, "zero": false}, "axis": null}
                  }
                }
              ]
            }
          ]
        },
        {
          "bounds": "flush",
          "spacing": 0,
          "vconcat": [
            {
              "width": 205, "height": 411,
              "resolve": {"axis": {"x": "independent", "y": "independent"}},
              "layer": [
                {
                  "data": {"name": "tr"},
                  "mark": {"type": "line", "strokeWidth": 3, "clip": true},
                  "encoding": {
                    "x": {"field": "x", "type": "quantitative", "scale": {"domain": [-0.7, 0.2], "reverse": true, "nice": false, "zero": false}, "axis": null},
                    "y": {"field": "y", "type": "quantitative", "scale": {"domain": [0.1, 1.5], "reverse": true, "nice": false, "zero": false}, "axis": null},
                    "stroke": {"field": "t", "type": "nominal", "scale": {"domain": ["-1", "-2", "-3"], "range": ["#ffc20e", "#9cf54a", "#1e88e5"]}, "legend": null},
                    "order": {"field": "y", "type": "quantitative"}
                  }
                },
                {
                  "data": {"name": "ca"},
                  "mark": {"type": "errorbar", "color": "black", "thickness": 1.5, "clip": true},
                  "encoding": {
                    "x": {"field": "x", "type": "quantitative", "scale": {"domain": [-0.7, 0.2], "reverse": true, "nice": false, "zero": false}, "axis": null},
                    "y": {"field": "y", "type": "quantitative", "scale": {"domain": [0.1, 1.5], "reverse": true, "nice": false, "zero": false}, "axis": null},
                    "xError": {"field": "ex"}
                  }
                },
                {
                  "data": {"name": "ca"},
                  "mark": {"type": "errorbar", "color": "black", "thickness": 1.5, "clip": true},
                  "encoding": {
                    "x": {"field": "x", "type": "quantitative", "scale": {"domain": [-0.7, 0.2], "reverse": true, "nice": false, "zero": false}, "axis": null},
                    "y": {"field": "y", "type": "quantitative", "scale": {"domain": [0.1, 1.5], "reverse": true, "nice": false, "zero": false}, "axis": null},
                    "yError": {"field": "ey"}
                  }
                },
                {
                  "data": {"name": "ca"},
                  "mark": {"type": "circle", "size": 62, "stroke": "black", "strokeWidth": 0.7, "opacity": 1},
                  "encoding": {
                    "x": {"field": "x", "type": "quantitative", "scale": {"domain": [-0.7, 0.2], "reverse": true, "nice": false, "zero": false},
                      "axis": {"orient": "top", "values": [0.2, 0.1, 0, -0.1, -0.2, -0.3, -0.4, -0.5, -0.6],
                        "tickSize": {"condition": {"test": "abs(datum.value*5-round(datum.value*5)) < 0.01", "value": -8}, "value": -5},
                        "labelExpr": "abs(datum.value*5-round(datum.value*5)) < 0.01 ? datum.label : ''", "labelPadding": 12.7, "format": "~f",
                        "title": "CaHK₀−g₀−1.5(g−i)₀", "titleY": -39}},
                    "y": {"field": "y", "type": "quantitative", "scale": {"domain": [0.1, 1.5], "reverse": true, "nice": false, "zero": false},
                      "axis": {"orient": "left", "values": [0.2, 0.3, 0.4, 0.5, 0.6, 0.7, 0.8, 0.9, 1, 1.1, 1.2, 1.3, 1.4, 1.5],
                        "tickSize": {"condition": {"test": "abs(datum.value*2-round(datum.value*2)) < 0.01", "value": -8}, "value": -5},
                        "labelExpr": "abs(datum.value*2-round(datum.value*2)) < 0.01 ? datum.label : ''", "labelAngle": 90, "labelAlign": "center", "labelBaseline": "top", "labelPadding": 19.4, "format": "~f",
                        "title": "(g−i)₀", "titleAngle": 90, "titleX": -53, "titleY": 205.5}},
                    "color": {"field": "feh", "type": "quantitative", "scale": {"domain": [-4, -3.6, -3.2, -2.9, -2.65, -2.4, -2.0, -1.6, -1.3, -0.9, -0.5, -0.25, 0], "range": ["#000060", "#0000a8", "#0028e0", "#0080ff", "#00e8ff", "#30ffd0", "#a0ff60", "#d8ff28", "#ffff00", "#ffc800", "#ff8800", "#ff4800", "#ff0000"], "interpolate": "rgb"}, "legend": null}
                  }
                },
                {
                  "data": {"name": "ca"},
                  "mark": {"type": "point", "opacity": 0},
                  "encoding": {
                    "x": {"field": "x", "type": "quantitative", "scale": {"domain": [-0.7, 0.2], "reverse": true, "nice": false, "zero": false},
                      "axis": {"orient": "bottom", "values": [0.2, 0.1, 0, -0.1, -0.2, -0.3, -0.4, -0.5, -0.6],
                        "tickSize": {"condition": {"test": "abs(datum.value*5-round(datum.value*5)) < 0.01", "value": -8}, "value": -5}, "labels": false, "title": null}},
                    "y": {"field": "y", "type": "quantitative", "scale": {"domain": [0.1, 1.5], "reverse": true, "nice": false, "zero": false},
                      "axis": {"orient": "right", "values": [0.2, 0.3, 0.4, 0.5, 0.6, 0.7, 0.8, 0.9, 1, 1.1, 1.2, 1.3, 1.4, 1.5],
                        "tickSize": {"condition": {"test": "abs(datum.value*2-round(datum.value*2)) < 0.01", "value": -8}, "value": -5}, "labels": false, "title": null}}
                  }
                },
                {
                  "data": {"values": [{}]},
                  "mark": {"type": "text", "text": "Fjorm", "angle": 90, "fontSize": 21, "align": "center", "baseline": "middle"},
                  "encoding": {
                    "x": {"datum": -0.906, "type": "quantitative", "scale": {"domain": [-0.7, 0.2], "reverse": true, "nice": false, "zero": false}, "axis": null},
                    "y": {"datum": 0.8045, "type": "quantitative", "scale": {"domain": [0.1, 1.5], "reverse": true, "nice": false, "zero": false}, "axis": null}
                  }
                }
              ]
            },
            {"width": 1, "height": 73, "data": {"values": []}, "mark": "point", "view": {"stroke": null}},
            {
              "width": 206, "height": 205,
              "data": {"name": "pm"},
              "resolve": {"axis": {"x": "independent", "y": "independent"}},
              "layer": [
                {
                  "mark": {"type": "errorbar", "color": "black", "thickness": 1.5, "clip": true},
                  "encoding": {
                    "x": {"field": "d", "type": "quantitative", "scale": {"domain": [-0.2, 9.8], "nice": false, "zero": false}, "axis": null},
                    "y": {"field": "r", "type": "quantitative", "scale": {"domain": [-5.7, 4.2], "reverse": true, "nice": false, "zero": false}, "axis": null},
                    "xError": {"field": "ed"}
                  }
                },
                {
                  "mark": {"type": "errorbar", "color": "black", "thickness": 1.5, "clip": true},
                  "encoding": {
                    "x": {"field": "d", "type": "quantitative", "scale": {"domain": [-0.2, 9.8], "nice": false, "zero": false}, "axis": null},
                    "y": {"field": "r", "type": "quantitative", "scale": {"domain": [-5.7, 4.2], "reverse": true, "nice": false, "zero": false}, "axis": null},
                    "yError": {"field": "er"}
                  }
                },
                {
                  "mark": {"type": "circle", "size": 58, "stroke": "black", "strokeWidth": 0.7, "opacity": 1},
                  "encoding": {
                    "x": {"field": "d", "type": "quantitative", "scale": {"domain": [-0.2, 9.8], "nice": false, "zero": false},
                      "axis": {"orient": "top", "values": [0, 1, 2, 3, 4, 5, 6, 7, 8, 9],
                        "tickSize": {"condition": {"test": "datum.value % 2 == 0", "value": -8}, "value": -4},
                        "labelExpr": "datum.value % 2 == 0 ? datum.label : ''", "labelPadding": 15, "format": "~f",
                        "title": "μ", "titleX": 50.7, "titleY": -38}},
                    "y": {"field": "r", "type": "quantitative", "scale": {"domain": [-5.7, 4.2], "reverse": true, "nice": false, "zero": false},
                      "axis": {"orient": "left", "values": [-5, -4, -3, -2, -1, 0, 1, 2, 3, 4],
                        "tickSize": {"condition": {"test": "abs(datum.value % 2) < 0.01", "value": -8}, "value": -4},
                        "labelExpr": "abs(datum.value % 2) < 0.01 ? datum.label : ''", "labelAngle": 90, "labelAlign": "center", "labelBaseline": "top", "labelPadding": 21.7, "format": "~f",
                        "title": "μ", "titleAngle": 90, "titleX": -48, "titleY": 51}},
                    "color": {"field": "feh", "type": "quantitative", "scale": {"domain": [-4, -3.6, -3.2, -2.9, -2.65, -2.4, -2.0, -1.6, -1.3, -0.9, -0.5, -0.25, 0], "range": ["#000060", "#0000a8", "#0028e0", "#0080ff", "#00e8ff", "#30ffd0", "#a0ff60", "#d8ff28", "#ffff00", "#ffc800", "#ff8800", "#ff4800", "#ff0000"], "interpolate": "rgb"}, "legend": null}
                  }
                },
                {
                  "mark": {"type": "point", "opacity": 0},
                  "encoding": {
                    "x": {"field": "d", "type": "quantitative", "scale": {"domain": [-0.2, 9.8], "nice": false, "zero": false},
                      "axis": {"orient": "bottom", "values": [0, 1, 2, 3, 4, 5, 6, 7, 8, 9],
                        "tickSize": {"condition": {"test": "datum.value % 2 == 0", "value": -8}, "value": -4}, "labels": false, "title": null}},
                    "y": {"field": "r", "type": "quantitative", "scale": {"domain": [-5.7, 4.2], "reverse": true, "nice": false, "zero": false},
                      "axis": {"orient": "right", "values": [-5, -4, -3, -2, -1, 0, 1, 2, 3, 4],
                        "tickSize": {"condition": {"test": "abs(datum.value % 2) < 0.01", "value": -8}, "value": -4}, "labels": false, "title": null}}
                  }
                },
                {
                  "mark": {"type": "point", "opacity": 0},
                  "encoding": {
                    "x": {"field": "d", "type": "quantitative", "scale": {"domain": [-0.2, 9.8], "nice": false, "zero": false},
                      "axis": {"orient": "top", "ticks": false, "labels": false, "title": "Dec", "titleFontSize": 12, "titleFontWeight": "bold", "titleX": 68.2, "titleY": -31.3}},
                    "y": {"field": "r", "type": "quantitative", "scale": {"domain": [-5.7, 4.2], "reverse": true, "nice": false, "zero": false},
                      "axis": {"orient": "left", "ticks": false, "labels": false, "title": "RA", "titleFontSize": 12, "titleFontWeight": "bold", "titleAngle": 90, "titleX": -52, "titleY": 63.7}}
                  }
                },
                {
                  "mark": {"type": "point", "opacity": 0},
                  "encoding": {
                    "x": {"field": "d", "type": "quantitative", "scale": {"domain": [-0.2, 9.8], "nice": false, "zero": false},
                      "axis": {"orient": "top", "ticks": false, "labels": false, "title": "(mas/yr)", "titleX": 124.8, "titleY": -38}},
                    "y": {"field": "r", "type": "quantitative", "scale": {"domain": [-5.7, 4.2], "reverse": true, "nice": false, "zero": false},
                      "axis": {"orient": "left", "ticks": false, "labels": false, "title": "(mas/yr)", "titleAngle": 90, "titleX": -46, "titleY": 126.2}}
                  }
                },
                {
                  "mark": {"type": "point", "opacity": 0},
                  "encoding": {
                    "x": {"field": "d", "type": "quantitative", "scale": {"domain": [-0.2, 9.8], "nice": false, "zero": false}, "axis": null},
                    "y": {"field": "r", "type": "quantitative", "scale": {"domain": [-5.7, 4.2], "reverse": true, "nice": false, "zero": false},
                      "axis": {"orient": "left", "ticks": false, "labels": false, "title": "*", "titleFontSize": 16, "titleAngle": 90, "titleX": -44.3, "titleY": 74.5}}
                  }
                }
              ]
            }
          ]
        }
      ]
    }
  ]
}
